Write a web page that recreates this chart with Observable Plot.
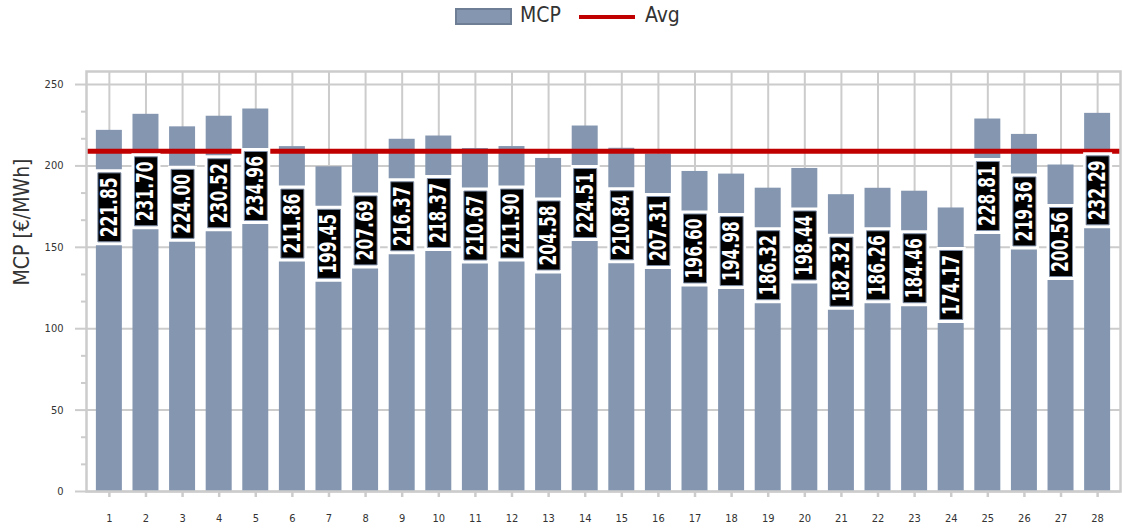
<!DOCTYPE html>
<html><head><meta charset="utf-8">
<script src="https://cdn.jsdelivr.net/npm/d3@7"></script>
<script src="https://cdn.jsdelivr.net/npm/@observablehq/plot@0.6"></script>
<style>
body{margin:0;background:#fff;font-family:"DejaVu Sans Condensed","DejaVu Sans",sans-serif;}
#legend{position:relative;height:34px;width:1123px;color:#333;font-size:21px;}
#legend .sw{position:absolute;left:455px;top:8px;width:53px;height:13px;background:#8496b0;border:2px solid #6e7f95;}
#legend .ln{position:absolute;left:579px;top:15px;width:56px;height:4px;background:#c00000;}
#legend .t1{position:absolute;left:520px;top:3px;}
#legend .t2{position:absolute;left:645px;top:3px;}
</style></head><body>
<div id="legend"><div class="sw"></div><span class="t1">MCP</span><div class="ln"></div><span class="t2">Avg</span></div>
<div id="chart"></div>
<script>
const days = [1,2,3,4,5,6,7,8,9,10,11,12,13,14,15,16,17,18,19,20,21,22,23,24,25,26,27,28];
const mcp = [221.85,231.70,224.00,230.52,234.96,211.86,199.45,207.69,216.37,218.37,210.67,211.90,204.58,224.51,210.84,207.31,196.60,194.98,186.32,198.44,182.32,186.26,184.46,174.17,228.81,219.36,200.56,232.29];
const avgValue = [208.97];
const yMajorTicks = [0,50,100,150,200,250];
const yMinorTicks = [16.67,33.33,66.67,83.33,116.67,133.33,166.67,183.33,216.67,233.33];
const yTitle = ["MCP [€/MWh]"];

const data = days.map((d,i)=>({day:d, value:mcp[i]}));
const boxOuter = {draw(ctx){ ctx.rect(-14.5,-38,29,76); }};
const boxInner = {draw(ctx){ ctx.rect(-11.5,-34.5,23,69); }};
const font = '"DejaVu Sans Condensed","DejaVu Sans",sans-serif';

const chart = Plot.plot({
  width:1123, height:495,
  marginTop:37, marginBottom:38, marginLeft:86, marginRight:3,
  style:{fontFamily:font, background:"#fff"},
  x:{type:"band", domain:days, paddingInner:0.29, paddingOuter:0.27, round:false},
  y:{domain:[0,258]},
  marks:[
    Plot.gridY(yMajorTicks, {stroke:"#ccc", strokeOpacity:1, strokeWidth:2}),
    Plot.gridX(days, {stroke:"#ccc", strokeOpacity:1, strokeWidth:2}),
    Plot.barY(data, {x:"day", y:"value", fill:"#8496b0"}),
    Plot.ruleY(avgValue, {stroke:"#c00000", strokeWidth:5}),
    Plot.dot(data, {x:"day", y:"value", dy:77, r:5, symbol:boxOuter, fill:"#fff", stroke:"none"}),
    Plot.dot(data, {x:"day", y:"value", dy:77, r:5, symbol:boxInner, fill:"#000", stroke:"#7d8da6", strokeWidth:1}),
    Plot.text(data, {x:"day", y:"value", dy:77, rotate:-90, text:d=>d.value.toFixed(2), fill:"#fff", fontWeight:"bold", fontSize:23, fontFamily:'"DejaVu Sans",sans-serif'}),
    Plot.frame({stroke:"#ccc", strokeWidth:2.5}),
    Plot.axisY(yMajorTicks, {tickSize:11, stroke:"#ccc", strokeWidth:2, fill:"none", label:null}),
    Plot.axisY(yMinorTicks, {tickSize:5, stroke:"#ccc", strokeWidth:2, fill:"none", label:null}),
    Plot.axisY(yMajorTicks, {tickSize:0, tickPadding:23, fill:"#333", fontSize:11, label:null}),
    Plot.axisX({tickSize:6, stroke:"#ccc", strokeWidth:2.5, fill:"none", label:null}),
    Plot.axisX({tickSize:0, tickPadding:23, fill:"#333", fontSize:11, label:null}),
    Plot.text(yTitle, {frameAnchor:"left", dx:-64, dy:4, rotate:-90, fill:"#333", fontSize:21})
  ]
});
document.getElementById("chart").appendChild(chart);
chart.querySelectorAll("text").forEach(t => {
  if (/^\d+\.\d\d$/.test(t.textContent.trim())) {
    t.setAttribute("textLength", "60");
    t.setAttribute("lengthAdjust", "spacingAndGlyphs");
  }
});
</script>
</body></html>
